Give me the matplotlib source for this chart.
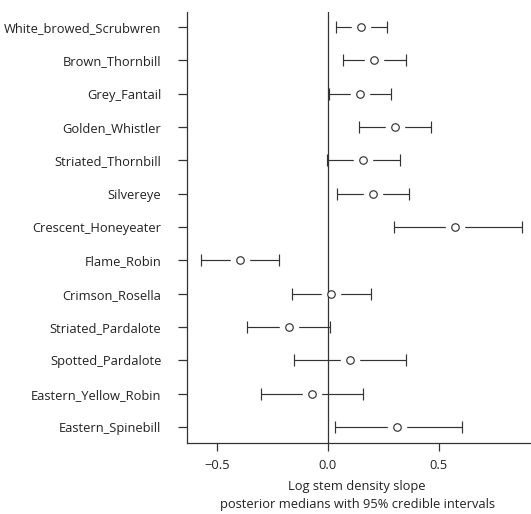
import matplotlib
matplotlib.use("Agg")
import matplotlib.pyplot as plt

species = ["White_browed_Scrubwren", "Brown_Thornbill", "Grey_Fantail", "Golden_Whistler",
           "Striated_Thornbill", "Silvereye", "Crescent_Honeyeater", "Flame_Robin",
           "Crimson_Rosella", "Striated_Pardalote", "Spotted_Pardalote",
           "Eastern_Yellow_Robin", "Eastern_Spinebill"]
median = [0.150, 0.209, 0.145, 0.305, 0.161, 0.206, 0.573, -0.396, 0.015, -0.176, 0.102, -0.071, 0.314]
lower = [0.036, 0.070, 0.004, 0.141, -0.002, 0.043, 0.297, -0.572, -0.161, -0.364, -0.150, -0.302, 0.032]
upper = [0.266, 0.351, 0.287, 0.464, 0.327, 0.366, 0.874, -0.221, 0.194, 0.010, 0.353, 0.158, 0.606]
xticks = [-0.5, 0.0, 0.5]
xticklabels = ["\u22120.5", "0.0", "0.5"]

plt.rcParams['font.family'] = ['Open Sans', 'DejaVu Sans']
W, H, DPI = 531, 514, 100
fig = plt.figure(figsize=(W / DPI, H / DPI), dpi=DPI)
ax = fig.add_axes([187 / W, (H - 443) / H, 1 - 187 / W, (443 - 12) / H])

n = len(species)
ypos = list(range(n, 0, -1))
col = "#333333"
tcol = "#222222"
xerr = [[m - l for m, l in zip(median, lower)], [u - m for m, u in zip(median, upper)]]
ax.errorbar(median, ypos, xerr=xerr, fmt='none', ecolor=col, elinewidth=0.85,
            capsize=4.3, capthick=0.85, zorder=2)
ax.plot(median, ypos, 'o', ms=14, mfc='white', mec='white', mew=0, zorder=3, linestyle='none')
ax.axvline(0, color=col, lw=0.9, zorder=4)
ax.plot(median, ypos, 'o', ms=5.4, mfc='white', mec=col, mew=0.85, zorder=5, linestyle='none')

ax.set_xlim(-0.634, (W - 327.7) / 222)
ax.set_ylim(0.52, 13.45)
ax.set_yticks(ypos)
ax.set_yticklabels(species, fontsize=9.3, color=tcol)
ax.set_xticks(xticks)
ax.set_xticklabels(xticklabels, fontsize=9.3, color=tcol)
ax.tick_params(axis='y', length=6.5, width=0.9, color=col, pad=12)
ax.tick_params(axis='x', length=5.8, width=0.9, color=col, pad=6)
for s in ['top', 'right']:
    ax.spines[s].set_visible(False)
for s in ['left', 'bottom']:
    ax.spines[s].set_color(col)
    ax.spines[s].set_linewidth(0.9)

ax.set_xlabel("Log stem density slope\nposterior medians with 95% credible intervals",
              fontsize=9.3, color=tcol, linespacing=1.5, labelpad=5.5)
ax.xaxis.label.set_x((357 - 187) / (W - 187))

fig.savefig("out.png", dpi=DPI)
